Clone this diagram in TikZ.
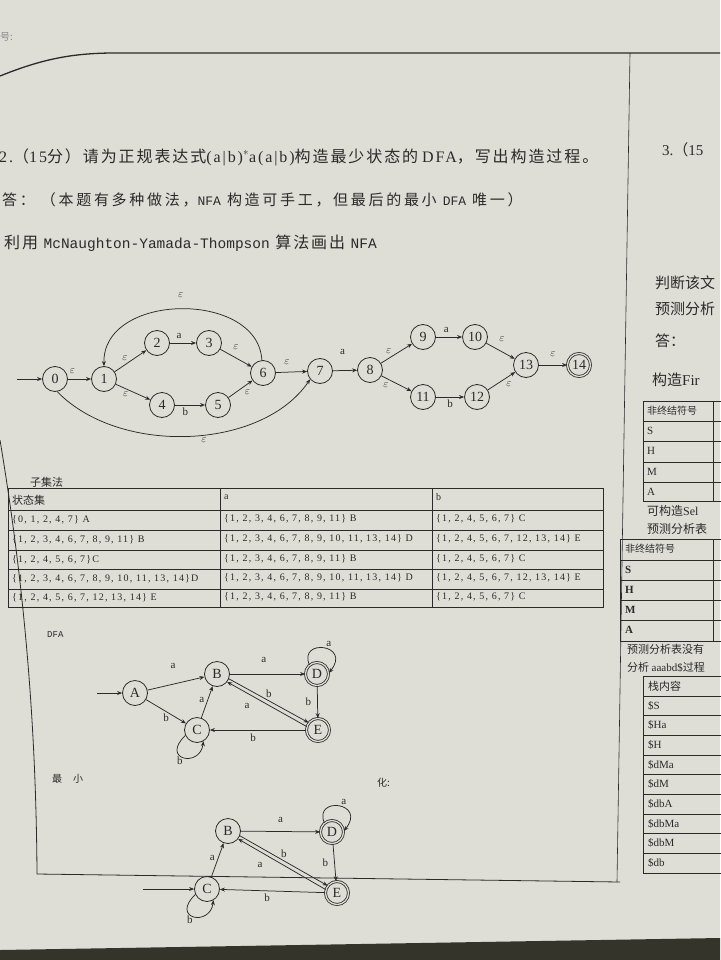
\documentclass[tikz,border=0pt]{standalone}
\usepackage{fontspec}
\setmainfont{Liberation Serif}
\setmonofont{Liberation Mono}
\newfontfamily\cjk{Noto Sans CJK SC}
\newfontfamily\cjkw[LetterSpace=12]{Noto Sans CJK SC}
\newfontfamily\cjkx[LetterSpace=18]{Noto Sans CJK SC}
\newfontfamily\serw[LetterSpace=12]{Liberation Serif}
\newfontfamily\tabfont[LetterSpace=12]{Liberation Serif}
\usetikzlibrary{arrows.meta,positioning,calc}
\definecolor{paper}{RGB}{222,222,215}
\definecolor{ink}{RGB}{42,42,42}
\definecolor{desk}{RGB}{52,52,42}
\newcommand{\eps}{$\varepsilon$}

\tikzset{
  st/.style={circle,draw=ink,line width=0.8pt,minimum size=25pt,inner sep=0pt,font=\fontsize{14}{14}\selectfont},
  acc/.style={st,minimum size=23pt,double=paper,double distance=1.3pt},
  arr/.style={->,draw=ink,line width=0.75pt},
  lbl/.style={font=\fontsize{11}{11}\selectfont,inner sep=1pt},
  cell/.style={anchor=west,inner sep=0pt,font=\tabfont\fontsize{10}{10}\selectfont},
  zh/.style={anchor=west,inner sep=0pt,font=\cjk\fontsize{15}{17}\selectfont},
  rcell/.style={anchor=west,inner sep=0pt,font=\fontsize{11}{11}\selectfont}
}

\begin{document}
\begin{tikzpicture}[x=1pt,y=-1pt,>={Stealth[length=5pt,width=4pt]},font=\fontsize{11}{13}\selectfont,color=ink]
\useasboundingbox (0,0) rectangle (720,960);
\fill[paper] (0,0) rectangle (720,960);
\fill[desk] (0,950) -- (720,938) -- (720,960) -- (0,960) -- cycle;
% frame of the sheet
\draw[line width=1.3pt] (0,76) .. controls (40,60) and (70,53) .. (115,53) -- (720,53);
\draw[line width=0.6pt] (630,53) -- (617,882);
\draw[line width=0.8pt] (0,440) .. controls (20,560) and (36,700) .. (37,874) -- (620,882);
\node[anchor=west,inner sep=0pt,font=\cjk\fontsize{10}{10}\selectfont,text=ink!55] (hao) at (0,37) {号:};

% question text
\node[anchor=west,inner sep=0pt,font=\fontsize{16}{18}\selectfont] (q2) at (-1,157)
  {{\serw 2.}{\cjkw （}{\serw 15}{\cjkw 分）请为正规表达式}{\serw (a|b)}$^{*}${\serw a(a|b)}{\cjkw 构造最少状态的} {\serw DFA}{\cjkw ，写出构造过程。}};
\node[anchor=west,inner sep=0pt,font=\cjkx\fontsize{15}{17}\selectfont] (ans) at (2,200)
  {答：\ （本题有多种做法，{\ttfamily\fontsize{13}{13}\selectfont NFA} 构造可手工，但最后的最小 {\ttfamily\fontsize{13}{13}\selectfont DFA} 唯一）};
\node[anchor=west,inner sep=0pt,font=\cjkw\fontsize{16}{18}\selectfont] (mythm) at (4,243)
  {利用 {\ttfamily\fontsize{14.5}{15}\selectfont McNaughton-Yamada-Thompson} 算法画出 {\ttfamily\fontsize{14.5}{15}\selectfont NFA}};

% NFA
\node[st] (n0) at (55,379) {0};
\node[st] (n1) at (104,379) {1};
\node[st] (n2) at (157,343) {2};
\node[st] (n3) at (209,343) {3};
\node[st] (n4) at (162,405) {4};
\node[st] (n5) at (218,405) {5};
\node[st] (n6) at (263,373) {6};
\node[st] (n7) at (320,371) {7};
\node[st] (n8) at (370,370) {8};
\node[st] (n9) at (423,337) {9};
\node[st] (n10) at (475,337) {10};
\node[st] (n11) at (423,397) {11};
\node[st] (n12) at (477,397) {12};
\node[st] (n13) at (526,365) {13};
\node[acc] (n14) at (579,365) {14};
\coordinate (s0) at (17,379);
\draw[arr] (s0) -- (n0);
\draw[arr] (n0) -- node[lbl,pos=0.2,above=4pt] (l01) {\eps} (n1);
\draw[arr] (n1) -- node[lbl,pos=0.45,above left=0pt] (l12) {\eps} (n2);
\draw[arr] (n1) -- node[lbl,pos=0.4,below left=0pt] (l14) {\eps} (n4);
\draw[arr] (n2) -- node[lbl,pos=0.35,above=3pt] (l23) {a} (n3);
\draw[arr] (n4) -- node[lbl,pos=0.35,below=1pt] (l45) {b} (n5);
\draw[arr] (n3) -- node[lbl,above=7pt] (l36) {\eps} (n6);
\draw[arr] (n5) -- node[lbl,pos=0.6,below right=1pt] (l56) {\eps} (n6);
\draw[arr] (n6.95) .. controls (258,290) and (102,292) .. node[lbl,above=10pt] (l61) {\eps} (n1.north);
\draw[arr] (n6) -- node[lbl,pos=0.35,above=6pt] (l67) {\eps} (n7);
\draw[arr] (n0.-80) .. controls (120,456) and (262,450) .. node[lbl,pos=0.55,below=1pt] (l07) {\eps} (n7.220);
\draw[arr] (n7) -- node[lbl,pos=0.4,above=15pt] (l78) {a} (n8);
\draw[arr] (n8) -- node[lbl,pos=0.4,above left=1pt] (l89) {\eps} (n9);
\draw[arr] (n8) -- node[lbl,pos=0.3,below left=1pt] (l811) {\eps} (n11);
\draw[arr] (n9) -- node[lbl,pos=0.4,above=3pt] (l910) {a} (n10);
\draw[arr] (n11) -- node[lbl,below=1pt] (l1112) {b} (n12);
\draw[arr] (n10) -- node[lbl,pos=0.55,above=9pt] (l1013) {\eps} (n13);
\draw[arr] (n12) -- node[lbl,pos=0.6,below right=1pt] (l1213) {\eps} (n13);
\draw[arr] (n13) -- node[lbl,above=7pt] (l1314) {\eps} (n14);

% subset table
\node[anchor=west,inner sep=0pt,font=\cjk\fontsize{11}{11}\selectfont] (subset) at (30,482) {子集法};
\draw[line width=0.6pt] (8,488) rectangle (603,607);
\draw[line width=0.6pt] (220,488) -- (220,607) (432,488) -- (432,607);
\draw[line width=0.6pt] (8,510) -- (603,510) (8,530) -- (603,530) (8,550) -- (603,550)
  (8,569) -- (603,569) (8,589) -- (603,589);
\node[anchor=west,inner sep=0pt,font=\cjk\fontsize{11}{11}\selectfont] (h1) at (12,500) {状态集};
\node[cell] (h2) at (224,497) {a};
\node[cell] (h3) at (436,497) {b};
\node[cell] (c11) at (12,520) {\{0, 1, 2, 4, 7\} A};
\node[cell] (c12) at (224,519) {\{1, 2, 3, 4, 6, 7, 8, 9, 11\} B};
\node[cell] (c13) at (436,519) {\{1, 2, 4, 5, 6, 7\} C};
\node[cell] (c21) at (12,540) {\{1, 2, 3, 4, 6, 7, 8, 9, 11\} B};
\node[cell] (c22) at (224,539) {\{1, 2, 3, 4, 6, 7, 8, 9, 10, 11, 13, 14\} D};
\node[cell] (c23) at (436,539) {\{1, 2, 4, 5, 6, 7, 12, 13, 14\} E};
\node[cell] (c31) at (12,560) {\{1, 2, 4, 5, 6, 7\}C};
\node[cell] (c32) at (224,559) {\{1, 2, 3, 4, 6, 7, 8, 9, 11\} B};
\node[cell] (c33) at (436,559) {\{1, 2, 4, 5, 6, 7\} C};
\node[cell] (c41) at (12,579) {\{1, 2, 3, 4, 6, 7, 8, 9, 10, 11, 13, 14\}D};
\node[cell] (c42) at (224,578) {\{1, 2, 3, 4, 6, 7, 8, 9, 10, 11, 13, 14\} D};
\node[cell] (c43) at (436,578) {\{1, 2, 4, 5, 6, 7, 12, 13, 14\} E};
\node[cell] (c51) at (12,598) {\{1, 2, 4, 5, 6, 7, 12, 13, 14\} E};
\node[cell] (c52) at (224,597) {\{1, 2, 3, 4, 6, 7, 8, 9, 11\} B};
\node[cell] (c53) at (436,597) {\{1, 2, 4, 5, 6, 7\} C};

% DFA
\node[anchor=west,inner sep=0pt,font=\ttfamily\fontsize{9}{9}\selectfont] (dfa) at (47,635) {DFA};
\node[st] (A) at (135,693) {A};
\node[st] (B) at (217,674) {B};
\node[acc] (D) at (317,674) {D};
\node[st] (C) at (197,730) {C};
\node[acc] (E) at (318,730) {E};
\coordinate (sA) at (97,693);
\draw[arr] (sA) -- (A);
\draw[arr] (A) -- node[lbl,pos=0.45,above=14pt] (lab) {a} (B);
\draw[arr] (A) -- node[lbl,below=1pt] (lac) {b} (C);
\draw[arr] (C) -- node[lbl,pos=0.55,left=2pt] (lcb) {a} (B);
\draw[arr] (B) -- node[lbl,pos=0.45,above=10pt] (lbd) {a} (D);
\draw[arr] (D.130) .. controls (298,638) and (352,644) .. node[lbl,pos=0.6,above=2pt] (ldd) {a} (D.5);
\draw[arr] (D) -- node[lbl,left=5pt] (lde) {b} (E);
\draw[arr] (B.-22) -- node[lbl,above=2pt] (lbe) {b} (E.142);
\draw[arr] (E.163) -- node[lbl,pos=0.75,below=9pt] (leb) {a} (B.-38);
\draw[arr] (E) -- node[lbl,pos=0.55,below=2pt] (lec) {b} (C);
\draw[arr] (C.205) .. controls (160,760) and (200,768) .. node[lbl,pos=0.4,below=0pt] (lcc) {b} (C.-60);

% minimised DFA
\node[anchor=west,inner sep=0pt,font=\cjk\fontsize{10}{10}\selectfont] (zui) at (52,779) {最};
\node[anchor=west,inner sep=0pt,font=\cjk\fontsize{10}{10}\selectfont] (xiao) at (73,779) {小};
\node[anchor=west,inner sep=0pt,font=\cjk\fontsize{10}{10}\selectfont] (hua) at (377,783) {化:};
\node[st] (mB) at (228,831) {B};
\node[acc] (mD) at (332,832) {D};
\node[st] (mC) at (207,889) {C};
\node[acc] (mE) at (337,893) {E};
\coordinate (sC) at (143,889);
\draw[arr] (sC) -- (mC);
\draw[arr] (mC) -- node[lbl,pos=0.55,left=2pt] (mlcb) {a} (mB);
\draw[arr] (mB) -- node[lbl,above=8pt] (mlbd) {a} (mD);
\draw[arr] (mD.130) .. controls (313,796) and (367,802) .. node[lbl,pos=0.6,above=2pt] (mldd) {a} (mD.5);
\draw[arr] (mD) -- node[lbl,left=5pt] (mlde) {b} (mE);
\draw[arr] (mB.-22) -- node[lbl,above=2pt] (mlbe) {b} (mE.142);
\draw[arr] (mE.163) -- node[lbl,pos=0.75,below=9pt] (mleb) {a} (mB.-38);
\draw[arr] (mE) -- node[lbl,pos=0.55,below=2pt] (mlec) {b} (mC);
\draw[arr] (mC.205) .. controls (170,919) and (210,927) .. node[lbl,pos=0.4,below=0pt] (mlcc) {b} (mC.-60);

% next question (cut at the edge of the photo)
\node[anchor=west,inner sep=0pt,font=\fontsize{15}{18}\selectfont] (q3) at (662,150) {3.{\cjk （}15};
\node[zh] (r1) at (655,283) {判断该文};
\node[zh] (r2) at (655,309) {预测分析};
\node[zh] (r3) at (655,341) {答：};
\node[zh] (r4) at (652,380) {构造{\fontspec{Liberation Serif}Fir}};
\draw[line width=0.6pt] (643,401) rectangle (730,501);
\draw[line width=0.6pt] (713,401) -- (713,501);
\draw[line width=0.6pt] (643,421) -- (730,421) (643,441) -- (730,441) (643,462) -- (730,462) (643,482) -- (730,482);
\node[anchor=west,inner sep=0pt,font=\cjk\fontsize{10}{10}\selectfont] (t1h) at (647,411) {非终结符号};
\node[rcell] (t1s) at (647,431) {S};
\node[rcell] (t1h2) at (647,451) {H};
\node[rcell] (t1m) at (647,472) {M};
\node[rcell] (t1a) at (647,492) {A};
\node[zh,font=\cjk\fontsize{12}{14}\selectfont] (r5) at (647,511) {可构造{\fontspec{Liberation Serif}Sel}};
\node[zh,font=\cjk\fontsize{12}{14}\selectfont] (r6) at (647,529) {预测分析表};
\draw[line width=0.6pt] (620,539) rectangle (730,641);
\draw[line width=0.6pt] (713,539) -- (713,641);
\draw[line width=0.6pt] (620,560) -- (730,560) (620,580) -- (730,580) (620,600) -- (730,600) (620,620) -- (730,620);
\node[anchor=west,inner sep=0pt,font=\cjk\fontsize{10}{10}\selectfont] (t2h) at (625,549) {非终结符号};
\node[rcell,font=\bfseries\fontsize{11}{11}\selectfont] (t2s) at (625,570) {S};
\node[rcell,font=\bfseries\fontsize{11}{11}\selectfont] (t2h2) at (625,590) {H};
\node[rcell,font=\bfseries\fontsize{11}{11}\selectfont] (t2m) at (625,610) {M};
\node[rcell,font=\bfseries\fontsize{11}{11}\selectfont] (t2a) at (625,630) {A};
\node[zh,font=\cjk\fontsize{11}{13}\selectfont] (r7) at (627,649) {预测分析表没有};
\node[zh,font=\cjk\fontsize{11}{13}\selectfont] (r8) at (627,667) {分析 {\fontspec{Liberation Serif}aaabd\$}过程};
\draw[line width=0.6pt] (643,676) rectangle (730,873);
\draw[line width=0.6pt] (643,696) -- (730,696) (643,715) -- (730,715) (643,735) -- (730,735)
  (643,755) -- (730,755) (643,774) -- (730,774) (643,794) -- (730,794) (643,814) -- (730,814)
  (643,833) -- (730,833) (643,853) -- (730,853);
\node[anchor=west,inner sep=0pt,font=\cjk\fontsize{11}{11}\selectfont] (t3h) at (648,686) {栈内容};
\node[rcell] (t3a) at (648,706) {\$S};
\node[rcell] (t3b) at (648,725) {\$Ha};
\node[rcell] (t3c) at (648,745) {\$H};
\node[rcell] (t3d) at (648,765) {\$dMa};
\node[rcell] (t3e) at (648,784) {\$dM};
\node[rcell] (t3f) at (648,804) {\$dbA};
\node[rcell] (t3g) at (648,824) {\$dbMa};
\node[rcell] (t3h2) at (648,843) {\$dbM};
\node[rcell] (t3i) at (648,863) {\$db};
\end{tikzpicture}
\end{document}
